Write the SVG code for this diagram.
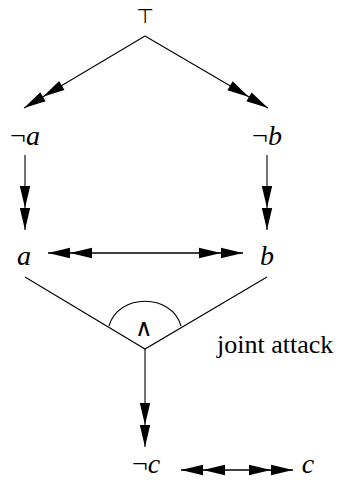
<svg xmlns="http://www.w3.org/2000/svg" width="338" height="487" viewBox="0 0 338 487">
<style>
.ln{stroke:#000;stroke-width:1.1;fill:none}
.ar{marker-end:url(#dbl)}
.bi{marker-start:url(#dbl);marker-end:url(#dbl)}
.t{font-family:"Liberation Serif","Times New Roman",serif;font-size:26px;fill:#000}
.m{font-size:28px}
.i{font-style:italic}
.s{font-family:"DejaVu Sans",sans-serif;fill:#000}
</style>
<defs>
<marker id="dbl" markerUnits="userSpaceOnUse" viewBox="0 0 46 12" markerWidth="46" markerHeight="12" refX="44" refY="6" orient="auto-start-reverse" overflow="visible">
<path d="M44,6 L22,0.8 L22,11.2 Z M22,6 L0,0.8 L0,11.2 Z" fill="#000"/>
</marker>
</defs>
<rect width="338" height="487" fill="#fff"/>
<g id="connectors">
<line class="ln ar" x1="145" y1="36" x2="24" y2="108"/>
<line class="ln ar" x1="145" y1="36" x2="268" y2="108"/>
<line class="ln ar" x1="25" y1="155" x2="25" y2="230"/>
<line class="ln ar" x1="267" y1="155" x2="267" y2="230"/>
<line class="ln bi" x1="48" y1="253" x2="243" y2="253" style="stroke-width:1.4"/>
<polyline class="ln" points="25,277 145,349 267,277"/>
<path class="ln" d="M109,326 C118,293 172,293 181,326"/>
<line class="ln ar" x1="145" y1="349" x2="145" y2="447"/>
<line class="ln bi" x1="181" y1="470" x2="293" y2="470" style="stroke-width:1.4"/>
</g>
<g id="top"><text class="s" x="145" y="23" font-size="20" text-anchor="middle">⊤</text></g>
<g id="not-a"><text class="t m" x="25" y="145" text-anchor="middle">¬<tspan class="i">a</tspan></text></g>
<g id="not-b"><text class="t m" x="267" y="145" text-anchor="middle">¬<tspan class="i">b</tspan></text></g>
<g id="a"><text class="t m i" x="24" y="265" text-anchor="middle">a</text></g>
<g id="b"><text class="t m i" x="267" y="265" text-anchor="middle">b</text></g>
<g id="joint"><text class="s" x="144" y="336" font-size="24" font-weight="200" text-anchor="middle">∧</text><text class="t" x="217" y="353">joint attack</text></g>
<g id="not-c"><text class="t m" x="146" y="473" text-anchor="middle">¬<tspan class="i">c</tspan></text></g>
<g id="c"><text class="t m i" x="308" y="473" text-anchor="middle">c</text></g>
</svg>
